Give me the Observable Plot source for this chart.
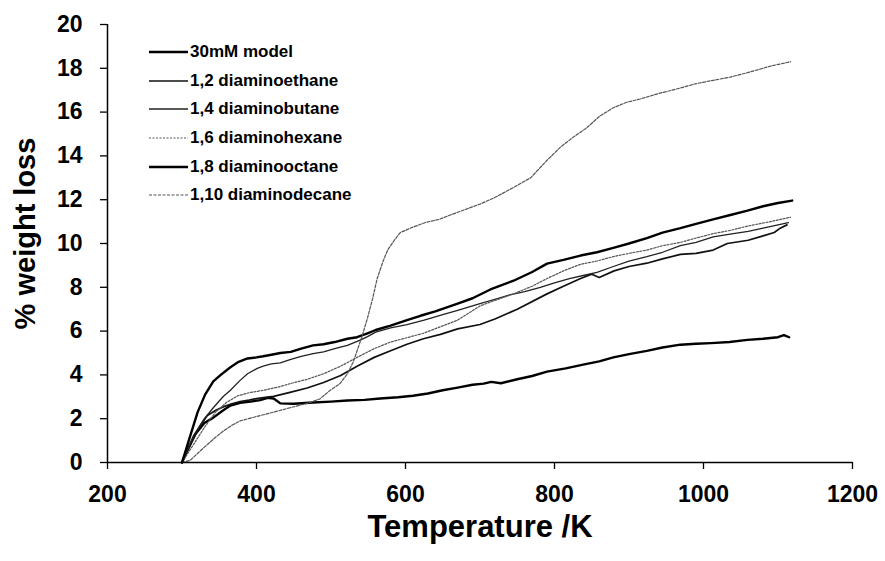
<!DOCTYPE html>
<html>
<head>
<meta charset="utf-8">
<script src="https://cdn.jsdelivr.net/npm/d3@7"></script>
<script src="https://cdn.jsdelivr.net/npm/@observablehq/plot@0.6"></script>
<style>
  html, body { margin: 0; padding: 0; background: #fff; overflow: hidden; }
  #wrap { position: relative; width: 885px; height: 561px; font-family: "Liberation Sans", Arial, sans-serif; }
  #legend { position: absolute; left: 149px; top: 38px; }
  .row { display: flex; align-items: center; height: 28.6px; }
  .row svg { width: 40px; height: 6px; flex: none; }
  .row span { font-size: 17px; font-weight: bold; color: #000; margin-left: 1px; white-space: nowrap; }
</style>
</head>
<body>
<div id="wrap"><div id="legend"></div></div>
<script>
// ---- data ----
const seriesNames = ["30mM model", "1,2 diaminoethane", "1,4 diaminobutane", "1,6 diaminohexane", "1,8 diaminooctane", "1,10 diaminodecane"];
const xTicks = [200, 400, 600, 800, 1000, 1200];
const yTicks = [0, 2, 4, 6, 8, 10, 12, 14, 16, 18, 20];

const tModel = [300,308,318,330,342,354,365,378,392,405,415,423,432,450,476,500,522,545,566,590,610,630,650,670,690,705,715,728,750,770,790,815,840,860,879,900,924,945,969,990,1010,1035,1059,1080,1100,1108,1115];
const wModel = [0,0.6,1.3,1.8,2.05,2.35,2.6,2.72,2.78,2.85,2.95,2.92,2.7,2.68,2.74,2.78,2.83,2.86,2.92,2.98,3.05,3.15,3.3,3.42,3.55,3.6,3.68,3.62,3.8,3.95,4.15,4.3,4.48,4.62,4.8,4.95,5.1,5.25,5.38,5.42,5.45,5.5,5.6,5.65,5.72,5.82,5.72];

const tEthane = [300,312,325,334,346,356,367,378,390,400,412,423,445,468,490,513,535,558,580,602,624,647,670,700,720,750,790,812,835,850,860,880,900,924,945,969,990,1013,1032,1060,1080,1095,1103,1112];
const wEthane = [0,0.9,1.7,2.15,2.4,2.55,2.68,2.78,2.85,2.92,2.97,3.02,3.2,3.4,3.65,3.97,4.4,4.8,5.1,5.4,5.65,5.85,6.1,6.3,6.55,7.0,7.7,8.05,8.4,8.6,8.45,8.75,8.95,9.1,9.3,9.5,9.55,9.7,10.0,10.15,10.35,10.5,10.7,10.85];

const tButane = [300,315,330,342,355,365,378,388,401,409,420,432,445,460,476,490,505,522,540,549,560,580,602,625,650,670,700,720,740,760,781,800,820,840,857,879,900,924,945,969,990,1013,1040,1060,1080,1100,1114];
const wButane = [0,1.2,2.0,2.5,3.0,3.3,3.75,4.05,4.3,4.4,4.5,4.55,4.7,4.85,4.97,5.05,5.2,5.35,5.6,5.75,5.95,6.15,6.3,6.5,6.75,6.95,7.26,7.45,7.65,7.8,8.0,8.2,8.4,8.55,8.68,8.95,9.2,9.4,9.6,9.9,10.05,10.3,10.45,10.55,10.7,10.85,10.95];

const tHexane = [300,315,330,345,360,375,392,410,430,445,468,490,513,535,558,580,602,624,647,670,700,720,745,770,790,812,835,857,879,900,924,945,969,990,1013,1036,1060,1090,1117];
const wHexane = [0,0.8,1.6,2.3,2.75,3.05,3.2,3.3,3.45,3.6,3.8,4.05,4.4,4.8,5.2,5.5,5.7,5.9,6.2,6.5,7.15,7.4,7.7,8.05,8.4,8.75,9.05,9.2,9.4,9.55,9.7,9.9,10.05,10.25,10.45,10.6,10.8,11.0,11.2];

const tOctane = [300,310,321,331,342,352,365,376,388,400,409,420,432,446,460,476,490,505,522,535,549,560,580,602,620,640,670,690,714,745,770,790,812,835,857,879,900,924,945,969,990,1013,1036,1059,1080,1100,1119];
const wOctane = [0,1.1,2.3,3.1,3.7,4.0,4.35,4.6,4.75,4.8,4.85,4.92,5.0,5.05,5.2,5.35,5.4,5.5,5.65,5.72,5.9,6.05,6.25,6.5,6.7,6.9,7.25,7.5,7.9,8.3,8.7,9.08,9.25,9.45,9.6,9.8,10.0,10.25,10.5,10.7,10.9,11.1,11.3,11.5,11.7,11.85,11.96];

const tDecane = [300,311,330,345,356,367,378,400,423,445,468,485,499,512,522,530,535,542,549,556,562,570,576,585,593,610,627,645,660,680,700,720,745,768,790,808,825,844,860,879,897,915,940,969,990,1013,1036,1059,1090,1117];
const wDecane = [0,0.1,0.7,1.15,1.45,1.7,1.9,2.1,2.3,2.5,2.7,2.9,3.3,3.6,4.05,4.6,5.1,5.8,6.6,7.5,8.4,9.2,9.7,10.15,10.5,10.75,10.96,11.1,11.3,11.55,11.8,12.1,12.56,13.0,13.8,14.4,14.85,15.3,15.8,16.2,16.45,16.6,16.85,17.1,17.3,17.45,17.6,17.8,18.1,18.3];

const xTitle = "Temperature /K";
const yTitle = "% weight loss";

// ---- styles ----
const styles = [
  {stroke: "#000", strokeWidth: 2.4},
  {stroke: "#111", strokeWidth: 1.7},
  {stroke: "#222", strokeWidth: 1.3},
  {stroke: "#555", strokeWidth: 1.2, strokeDasharray: "2,1.5"},
  {stroke: "#000", strokeWidth: 2.4},
  {stroke: "#555", strokeWidth: 1.2, strokeDasharray: "3,1.5"}
];
const tArrays = [tModel, tEthane, tButane, tHexane, tOctane, tDecane];
const wArrays = [wModel, wEthane, wButane, wHexane, wOctane, wDecane];
const tables = seriesNames.map((name, i) => tArrays[i].map((t, j) => ({T: t, W: wArrays[i][j], series: name})));

const font = "'Liberation Sans', Arial, sans-serif";
const chart = Plot.plot({
  width: 885,
  height: 561,
  marginLeft: 107,
  marginRight: 33,
  marginTop: 24,
  marginBottom: 99,
  style: {fontFamily: font, background: "#fff", color: "#000"},
  x: {domain: [200, 1200]},
  y: {domain: [0, 20]},
  marks: [
    Plot.axisX({ticks: xTicks, tickFormat: d => String(d), tickSize: 7, tickPadding: 16, fontSize: 23, fontWeight: "bold", label: null, stroke: "#000", strokeWidth: 1.3}),
    Plot.axisY({ticks: yTicks, tickFormat: d => String(d), tickSize: 7, tickPadding: 18, fontSize: 23, fontWeight: "bold", label: null, stroke: "#000", strokeWidth: 1.3}),
    ...tables.map((data, i) => Plot.line(data, {x: "T", y: "W", ...styles[i], strokeLinejoin: "round"})),
    Plot.ruleY([0], {stroke: "#000", strokeWidth: 1.5}),
    Plot.ruleX([200], {stroke: "#000", strokeWidth: 1.5}),
    Plot.text([xTitle], {frameAnchor: "bottom", lineAnchor: "middle", dy: 65, fontSize: 31, fontWeight: "bold", fill: "#000"}),
    Plot.text([yTitle], {frameAnchor: "left", textAnchor: "middle", dx: -82, dy: -10, rotate: -90, fontSize: 29, fontWeight: "bold", fill: "#000"})
  ]
});
document.getElementById("wrap").prepend(chart);

// ---- legend ----
const legend = document.getElementById("legend");
seriesNames.forEach((name, i) => {
  const row = document.createElement("div");
  row.className = "row";
  const s = styles[i];
  row.innerHTML = `<svg viewBox="0 0 40 6"><line x1="0" y1="3" x2="39" y2="3" stroke="${s.stroke}" stroke-width="${s.strokeWidth}" ${s.strokeDasharray ? `stroke-dasharray="${s.strokeDasharray}"` : ""}/></svg><span>${name}</span>`;
  legend.appendChild(row);
});
</script>
</body>
</html>
